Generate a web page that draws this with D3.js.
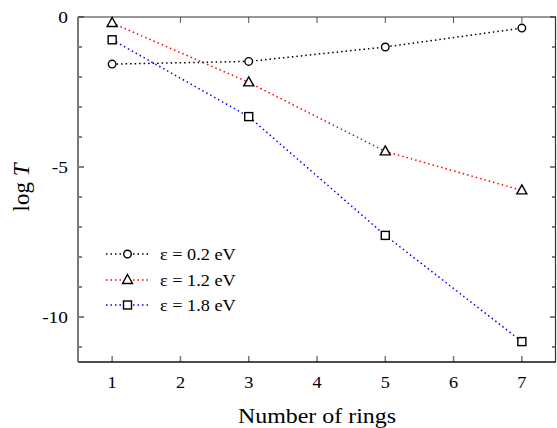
<!DOCTYPE html>
<html>
<head>
<meta charset="utf-8">
<script src="https://cdn.jsdelivr.net/npm/d3@7"></script>
<style>
  body { margin: 0; background: #fff; }
  text { font-family: "Liberation Serif", "DejaVu Serif", serif; }
</style>
</head>
<body>
<div id="chart"></div>
<script>
// number of rings and log T for each energy
const rings = [1, 3, 5, 7]
const seriesNames = ["ε = 0.2 eV", "ε = 1.2 eV", "ε = 1.8 eV"]
const logT02 = [-1.57, -1.48, -1.0, -0.37]
const logT12 = [-0.2, -2.18, -4.48, -5.78]
const logT18 = [-0.76, -3.32, -7.28, -10.82]
const xTicks = [1, 2, 3, 4, 5, 6, 7]
const yTicks = [0, -5, -10]

const width = 557
const height = 428
const margin = {left: 78, right: 1, top: 17, bottom: 66}
// the original text is a bit wider than the font
const sx = 1.14

const series = [
    {name: seriesNames[0], values: logT02, color: "#000", marker: "circle"},
    {name: seriesNames[1], values: logT12, color: "#ff0000", marker: "triangle"},
    {name: seriesNames[2], values: logT18, color: "#0000ff", marker: "square"}
]

const svg = d3.select("#chart").append("svg")
    .attr("width", width)
    .attr("height", height)

const x = d3.scaleLinear().domain([0.5, 7.5]).range([margin.left, width - margin.right])
const y = d3.scaleLinear().domain([-11.5, 0]).range([height - margin.bottom, margin.top])

const x0 = x.range()[0], x1 = x.range()[1]
const y0 = y.range()[0], y1 = y.range()[1]

// minor ticks on y every 1 unit
const yMinor = d3.range(-11, 1, 1)

const g = svg.append("g")

// ticks, inward on all four sides
yMinor.forEach(v => {
    const major = v % 5 === 0
    const len = major ? 6 : 4
    g.append("line").attr("x1", x0).attr("x2", x0 + len).attr("y1", y(v)).attr("y2", y(v))
        .attr("stroke", "#000").attr("stroke-width", 1)
    g.append("line").attr("x1", x1).attr("x2", x1 - len).attr("y1", y(v)).attr("y2", y(v))
        .attr("stroke", "#000").attr("stroke-width", 1)
})
xTicks.forEach(v => {
    g.append("line").attr("x1", x(v)).attr("x2", x(v)).attr("y1", y0).attr("y2", y0 - 6)
        .attr("stroke", "#777").attr("stroke-width", 1.5)
    g.append("line").attr("x1", x(v)).attr("x2", x(v)).attr("y1", y1).attr("y2", y1 + 6)
        .attr("stroke", "#555").attr("stroke-width", 1)
})

// frame
g.append("line").attr("x1", x0).attr("x2", x1).attr("y1", y1).attr("y2", y1).attr("stroke", "#333").attr("stroke-width", 1.2)
g.append("line").attr("x1", x0).attr("x2", x1).attr("y1", y0).attr("y2", y0).attr("stroke", "#111").attr("stroke-width", 1.5)
g.append("line").attr("x1", x1 - 0.5).attr("x2", x1 - 0.5).attr("y1", y1).attr("y2", y0).attr("stroke", "#333").attr("stroke-width", 1.2)
g.append("line").attr("x1", x0).attr("x2", x0).attr("y1", y1).attr("y2", y0).attr("stroke", "#777").attr("stroke-width", 2)

// tick labels
g.selectAll(".xlab").data(xTicks).enter().append("text")
    .attr("transform", d => `translate(${x(d)}, 388) scale(${sx}, 1)`)
    .attr("text-anchor", "middle").attr("font-size", 16).text(d => d)
g.selectAll(".ylab").data(yTicks).enter().append("text")
    .attr("transform", d => `translate(68, ${y(d) + 6}) scale(${sx}, 1)`)
    .attr("text-anchor", "end").attr("font-size", 17).text(d => d)

// axis titles
svg.append("text").attr("transform", `translate(${(x0 + x1) / 2}, 423) scale(${sx}, 1)`)
    .attr("text-anchor", "middle").attr("font-size", 21).text("Number of rings")
const yt = svg.append("text").attr("transform", `translate(29, ${(y0 + y1) / 2 - 2}) rotate(-90)`)
    .attr("text-anchor", "middle").attr("font-size", 23)
yt.append("tspan").text("log ")
yt.append("tspan").attr("font-style", "italic").text("T")

// marker drawing
function drawMarker(sel, type, cx, cy) {
    if (type === "circle") {
        sel.append("circle").attr("cx", cx).attr("cy", cy).attr("r", 3.8)
            .attr("fill", "#fff").attr("stroke", "#000").attr("stroke-width", 1.4)
    } else if (type === "square") {
        sel.append("rect").attr("x", cx - 4).attr("y", cy - 4).attr("width", 8).attr("height", 8)
            .attr("fill", "#fff").attr("stroke", "#000").attr("stroke-width", 1.4)
    } else {
        sel.append("path").attr("d", `M${cx},${cy - 5.5}L${cx + 5},${cy + 3.5}L${cx - 5},${cy + 3.5}Z`)
            .attr("fill", "#fff").attr("stroke", "#000").attr("stroke-width", 1.4)
    }
}

const line = d3.line().x(d => x(d[0])).y(d => y(d[1]))

series.forEach(s => {
    const pts = rings.map((r, i) => [r, s.values[i]])
    svg.append("path").datum(pts)
        .attr("d", line)
        .attr("fill", "none")
        .attr("stroke", s.color)
        .attr("stroke-width", 1.5)
        .attr("stroke-dasharray", "1.5,3")
    pts.forEach(p => drawMarker(svg, s.marker, x(p[0]), y(p[1])))
})

// legend
const legendY = [254, 280, 305]
series.forEach((s, i) => {
    svg.append("line").attr("x1", 106).attr("x2", 148).attr("y1", legendY[i]).attr("y2", legendY[i])
        .attr("stroke", s.color).attr("stroke-width", 1.5).attr("stroke-dasharray", "1.5,3")
    drawMarker(svg, s.marker, 127.5, legendY[i])
    svg.append("text").attr("transform", `translate(160, ${legendY[i] + 6}) scale(${sx}, 1)`)
        .attr("font-size", 16).text(s.name)
})
</script>
</body>
</html>
